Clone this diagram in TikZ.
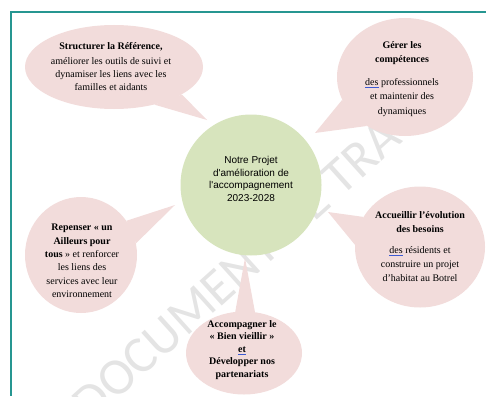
\documentclass[tikz,border=0pt]{standalone}
\usepackage{fontspec}
\setmainfont{Liberation Serif}
\newfontfamily\arialf{Liberation Sans}
\newfontfamily\wmfont{Carlito}
\usetikzlibrary{shapes.geometric}
\definecolor{bubblepink}{HTML}{F2DCDB}
\definecolor{centergreen}{HTML}{D7E4BD}
\definecolor{frameteal}{RGB}{38,150,145}
\definecolor{spellblue}{RGB}{60,90,210}
\definecolor{wmgray}{RGB}{228,228,228}
\newcommand{\spellu}[1]{\textcolor{spellblue}{\underline{\textcolor{black}{#1}}}}
\begin{document}
\begin{tikzpicture}[x=1pt,y=-1pt,
  bubble/.style={ellipse, fill=bubblepink, inner sep=0pt},
  bubtext/.style={align=center, inner sep=0pt, font=\fontsize{10}{13}\selectfont},
  tail/.style={fill=bubblepink},
  hub/.style={circle, fill=centergreen, inner sep=0pt, minimum size=141pt},
  hubtext/.style={align=center, inner sep=0pt, font=\arialf\fontsize{10}{12.7}\selectfont},
  frameline/.style={draw=frameteal, line width=1.1pt},
  watermark/.style={rotate=42, inner sep=0pt, text=wmgray, font=\wmfont\fontsize{52}{52}\selectfont}]
\useasboundingbox (0,0) rectangle (486,396);
% watermark
\node[watermark] (wm) at (270,240) {DOCUMENT DE TRAVAIL};
% frame
\coordinate (fr1) at (486,12);
\coordinate (fr2) at (11,12);
\coordinate (fr3) at (11,396);
\draw[frameline] (fr1) -- (fr2) -- (fr3);
% central hub
\node[hub] (c) at (251,185) {};
\node[hubtext] (ct) at (251,179) {Notre Projet\\d'amélioration de\\l'accompagnement\\2023-2028};
% tail tips
\coordinate (tS) at (207,120);
\coordinate (tG) at (315,133);
\coordinate (tR) at (175,205);
\coordinate (tB) at (245,258);
\coordinate (tA) at (328,212);
% Structurer
\node[bubble, minimum width=178pt, minimum height=84pt] (s) at (114,67) {};
\fill[tail] (s.-43) -- (tS) -- (s.-22) -- cycle;
\node[bubtext] (st) at (111,67) {\textbf{Structurer la Référence,}\\[2pt]améliorer les outils de suivi et\\dynamiser les liens avec les\\familles et aidants};
% Gerer
\node[bubble, minimum width=136pt, minimum height=118pt] (g) at (405,77) {};
\fill[tail] (g.-160) -- (tG) -- (g.-128) -- cycle;
\node[bubtext, font=\fontsize{10}{14.5}\selectfont] (gt) at (402,79) {\textbf{Gérer les}\\\textbf{compétences}\\[8pt]\spellu{des} professionnels\\et maintenir des\\dynamiques};
% Repenser
\node[bubble, minimum width=112pt, minimum height=116pt] (r) at (81,255) {};
\fill[tail] (r.37) -- (tR) -- (r.12) -- cycle;
\node[bubtext, font=\fontsize{10}{13.4}\selectfont] (rt) at (82,261) {\textbf{Repenser «~un}\\\textbf{Ailleurs pour}\\\textbf{tous} »~et renforcer\\les liens des\\services avec leur\\environnement};
% Accompagner
\node[bubble, minimum width=116pt, minimum height=83pt] (b) at (244,353) {};
\fill[tail] (b.102) -- (tB) -- (b.75) -- cycle;
\node[bubtext, font=\bfseries\fontsize{10}{12.5}\selectfont] (bt) at (242,350) {Accompagner le\\«~Bien vieillir~»\\\spellu{et}\\Développer nos\\partenariats};
% Accueillir
\node[bubble, minimum width=130pt, minimum height=121pt] (a) at (420,247) {};
\fill[tail] (a.152) -- (tA) -- (a.178) -- cycle;
\node[bubtext, font=\fontsize{10}{13.7}\selectfont] (at) at (420,246.5) {\textbf{Accueillir l’évolution}\\\textbf{des besoins}\\[8pt]\spellu{des} résidents et\\construire un projet\\d’habitat au Botrel};
\end{tikzpicture}
\end{document}
